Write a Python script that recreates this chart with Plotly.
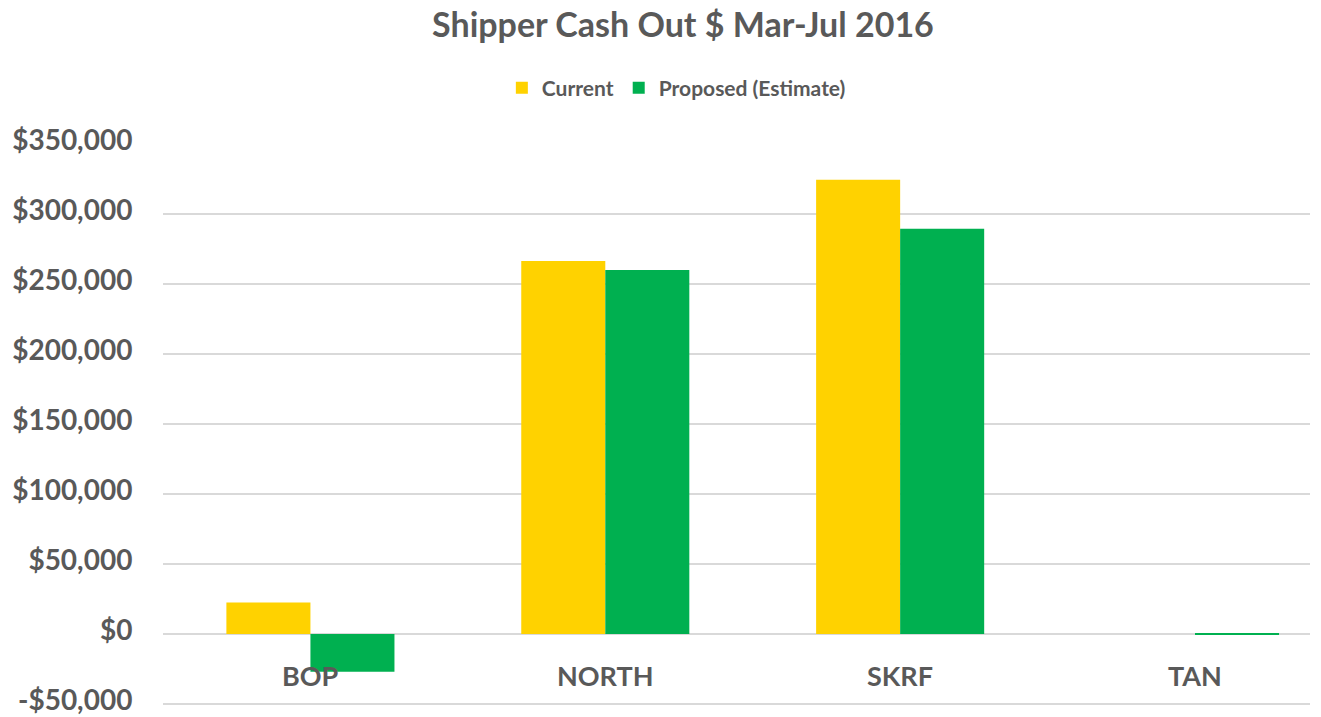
import plotly.graph_objects as go

categories = ["BOP", "NORTH", "SKRF", "TAN"]
current = [22500, 266500, 324500, 0]
proposed = [-27000, 260000, 289500, -400]
series_names = ["Current", "Proposed (Estimate)"]
tick_vals = [-50000, 0, 50000, 100000, 150000, 200000, 250000, 300000, 350000]
tick_text = ["-$50,000", "$0", "$50,000", "$100,000", "$150,000", "$200,000",
             "$250,000", "$300,000", "$350,000"]

FONT = "Lato"
GRAY = "#595959"

fig = go.Figure()
fig.add_trace(go.Bar(x=categories, y=current, name="<b>%s</b>" % series_names[0],
                     marker=dict(color="#FFD200", line=dict(width=0))))
fig.add_trace(go.Bar(x=categories, y=proposed, name="<b>%s</b>" % series_names[1],
                     marker=dict(color="#00B050", line=dict(width=0))))

for c in categories:
    fig.add_annotation(x=c, y=0, xref="x", yref="y", text="<b>%s</b>" % c,
                       showarrow=False, yanchor="top", yshift=-23,
                       font=dict(family=FONT, size=27, color=GRAY))

fig.update_layout(
    width=1321, height=717,
    margin=dict(l=163, r=11, t=144, b=8),
    paper_bgcolor="white", plot_bgcolor="white",
    barmode="group", bargap=0.43, bargroupgap=0,
    title=dict(text="<b>Shipper Cash Out $ Mar-Jul 2016</b>", x=0.517, xanchor="center",
               xref="container",
               y=0.965, yanchor="middle", font=dict(family=FONT, size=34, color=GRAY)),
    legend=dict(orientation="h", x=0.512, xanchor="center", xref="container",
                y=0.877, yanchor="middle", yref="container",
                font=dict(family=FONT, size=21, color=GRAY),
                traceorder="normal"),
    xaxis=dict(range=[-0.5, 3.39], showticklabels=False, showgrid=False,
               zeroline=False, showline=False, ticks="", automargin=False),
    yaxis=dict(range=[-53600, 350000], tickvals=tick_vals,
               ticktext=["<b>%s</b>" % t for t in tick_text],
               tickfont=dict(family=FONT, size=28, color=GRAY),
               ticklabeloverflow="allow", ticklabelshift=-4,
               showgrid=True, gridcolor="#D9D9D9", gridwidth=1.5,
               zeroline=True, zerolinecolor="#D9D9D9", zerolinewidth=1.5,
               showline=False, ticks="outside", ticklen=24, tickcolor="white",
               automargin=False),
    font=dict(family=FONT, color=GRAY),
)

fig.write_html("out.html")
